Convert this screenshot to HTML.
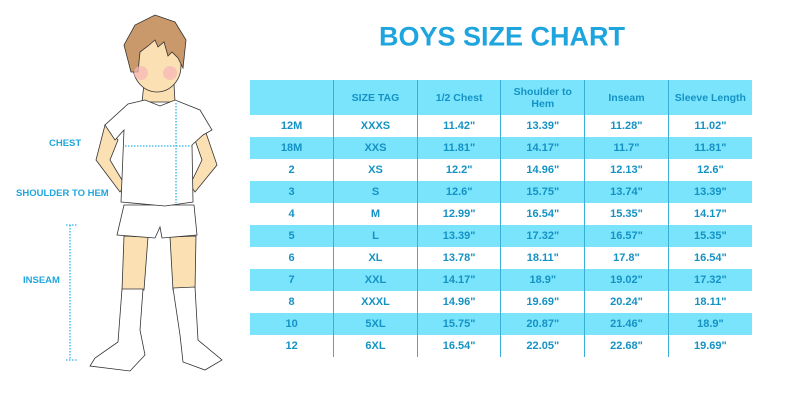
<!DOCTYPE html>
<html><head><style>
body{margin:0;width:800px;height:400px;background:#fff;position:relative;overflow:hidden;font-family:"Liberation Sans",sans-serif}
.t{position:absolute;left:250px;top:37px;width:504px;text-align:center;font-weight:bold;font-size:27px;color:#1ea5dd;line-height:1;transform:translateY(-50%)}
table{position:absolute;left:250px;top:80px;border-collapse:collapse;width:502px;table-layout:fixed}
td{text-align:center;color:#1592c4;font-weight:bold;font-size:11px;height:22px;padding:0;border-left:1.5px solid #3aaed6}
td:first-child{border-left:none}
tr.c td{background:#79e4fc}
tr.h td{height:35px;font-size:10.5px;line-height:12px}
.l{position:absolute;color:#1fa6dc;font-weight:bold;font-size:9.5px}
</style></head><body>
<div class="t">BOYS SIZE CHART</div>
<svg width="240" height="400" style="position:absolute;left:0;top:0">
<g stroke="#333" stroke-width="0.8">
<path d="M124 236 L122 290 L144 290 L148 237 Z" fill="#fbe0b4"/>
<path d="M170 237 L173 290 L195 290 L196 236 Z" fill="#fbe0b4"/>
<path d="M122 289 L143 289 L140 330 L145 355 L130 371 L90 366 L95 358 L118 342 Z" fill="#fff"/>
<path d="M173 288 L195 287 L198 340 L222 360 L205 370 L183 362 L180 335 Z" fill="#fff"/>
<path d="M124 205 L194 205 L197 235 L162 238 L160 227 L155 238 L117 235 Z" fill="#fff"/>
<path d="M105 125 L96 160 L120 192 L125 185 L110 160 L118 140 Z" fill="#fbe0b4"/>
<path d="M205 130 L217 165 L195 192 L190 185 L202 160 L195 140 Z" fill="#fbe0b4"/>
<path d="M144 84 L142 102 L175 102 L174 84 Z" fill="#fbe0b4"/>
<path d="M145 100 L128 104 L105 125 L115 140 L124 130 L121 202 L165 206 L193 202 L192 145 L203 135 L212 130 L200 110 L175 100 L160 106 Z" fill="#fff"/>
<ellipse cx="157" cy="66" rx="24" ry="26" fill="#fbe0b4"/>
<path d="M131 72 L124 45 L135 25 L155 15 L175 22 L186 40 L183 68 L178 58 L172 52 L168 56 L164 42 L158 47 L155 40 L148 46 L140 52 L138 72 Z" fill="#c9996b"/>
</g>
<circle cx="141" cy="73" r="7" fill="#f6b7b7" opacity=".7"/>
<circle cx="170" cy="73" r="7" fill="#f6b7b7" opacity=".7"/>
<g stroke="#2bb5e6" stroke-width="1.3" stroke-dasharray="1.5 1.5" fill="none">
<line x1="125" y1="146" x2="192" y2="146"/>
<line x1="176" y1="103" x2="176" y2="203"/>
<line x1="70" y1="225" x2="70" y2="360"/>
<line x1="66" y1="225" x2="77" y2="225"/>
<line x1="66" y1="360" x2="77" y2="360"/>
</g>
</svg>
<div class="l" style="left:49px;top:138px">CHEST</div>
<div class="l" style="left:16px;top:188px">SHOULDER TO HEM</div>
<div class="l" style="left:23px;top:275px">INSEAM</div>
<table>
<tr class="h c"><td></td><td>SIZE TAG</td><td>1/2 Chest</td><td>Shoulder to<br>Hem</td><td>Inseam</td><td>Sleeve Length</td></tr>
<tr><td>12M</td><td>XXXS</td><td>11.42"</td><td>13.39"</td><td>11.28"</td><td>11.02"</td></tr>
<tr class="c"><td>18M</td><td>XXS</td><td>11.81"</td><td>14.17"</td><td>11.7"</td><td>11.81"</td></tr>
<tr><td>2</td><td>XS</td><td>12.2"</td><td>14.96"</td><td>12.13"</td><td>12.6"</td></tr>
<tr class="c"><td>3</td><td>S</td><td>12.6"</td><td>15.75"</td><td>13.74"</td><td>13.39"</td></tr>
<tr><td>4</td><td>M</td><td>12.99"</td><td>16.54"</td><td>15.35"</td><td>14.17"</td></tr>
<tr class="c"><td>5</td><td>L</td><td>13.39"</td><td>17.32"</td><td>16.57"</td><td>15.35"</td></tr>
<tr><td>6</td><td>XL</td><td>13.78"</td><td>18.11"</td><td>17.8"</td><td>16.54"</td></tr>
<tr class="c"><td>7</td><td>XXL</td><td>14.17"</td><td>18.9"</td><td>19.02"</td><td>17.32"</td></tr>
<tr><td>8</td><td>XXXL</td><td>14.96"</td><td>19.69"</td><td>20.24"</td><td>18.11"</td></tr>
<tr class="c"><td>10</td><td>5XL</td><td>15.75"</td><td>20.87"</td><td>21.46"</td><td>18.9"</td></tr>
<tr><td>12</td><td>6XL</td><td>16.54"</td><td>22.05"</td><td>22.68"</td><td>19.69"</td></tr>
</table>
</body></html>
